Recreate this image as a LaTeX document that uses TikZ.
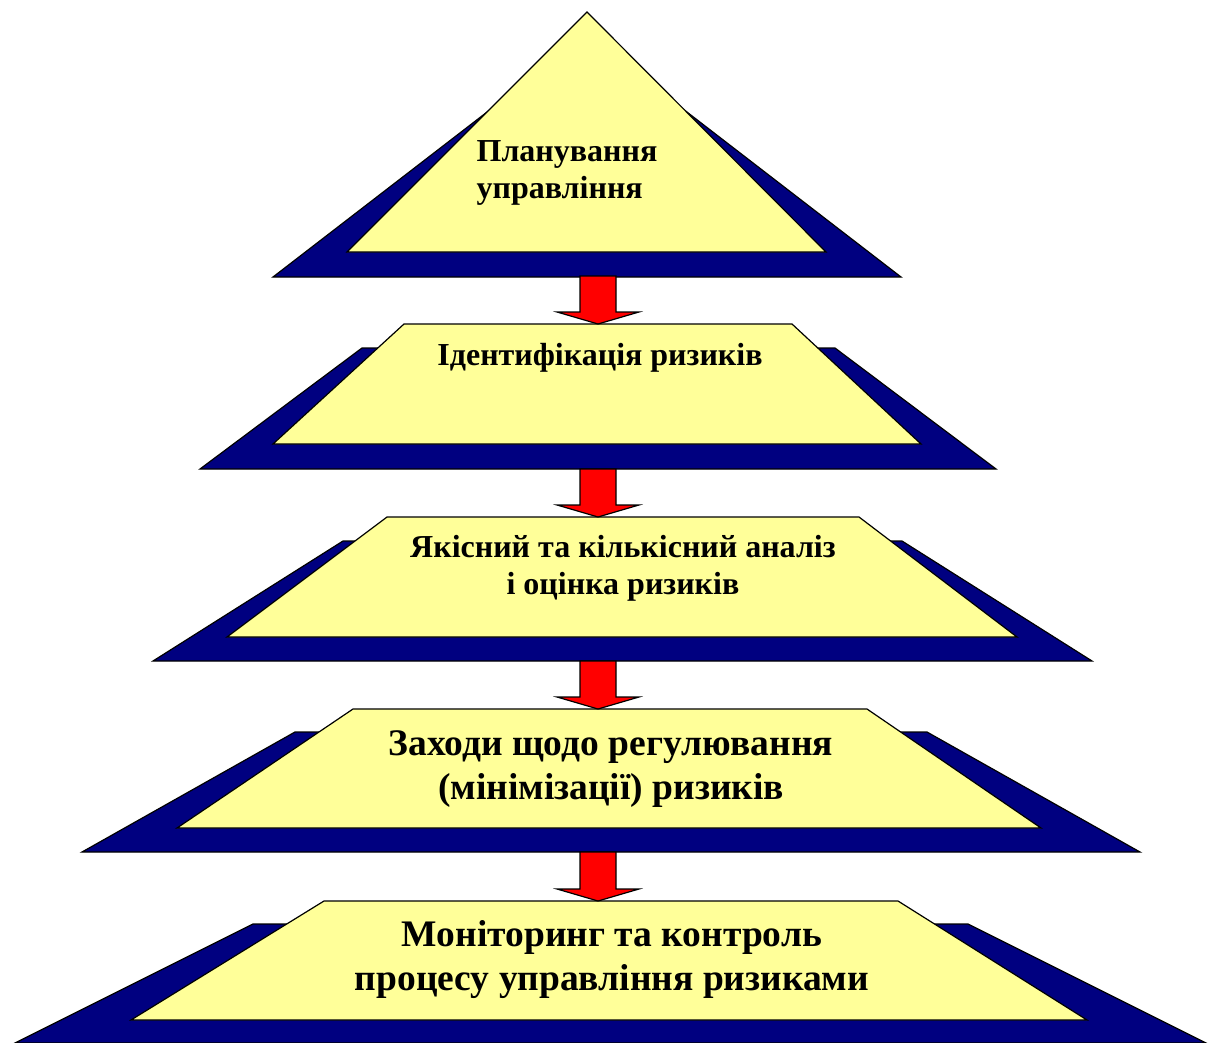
\documentclass[tikz,border=0pt]{standalone}
\usepackage{fontspec}
\setmainfont{Liberation Serif}
\usetikzlibrary{calc}
\definecolor{tiernavy}{RGB}{0,0,128}
\definecolor{tieryellow}{RGB}{255,255,153}
% block arrow from (#1) down to its tip (#2)
\newcommand{\tierarrow}[2]{%
  \draw[block arrow] ($(#1)+(-18,0)$) -- ($(#1)+(18,0)$) -- ($(#2)+(18,-12)$)
    -- ($(#2)+(41,-12)$) -- (#2) -- ($(#2)+(-41,-12)$) -- ($(#2)+(-18,-12)$) -- cycle;}

\begin{document}
\begin{tikzpicture}[x=1pt,y=-1pt,line join=miter]
    \tikzstyle{back tier}=[fill=tiernavy,draw=black,line width=1.2pt]
    \tikzstyle{front tier}=[fill=tieryellow,draw=black,line width=1.2pt]
    \tikzstyle{block arrow}=[fill=red,draw=black,line width=1.2pt]
    \tikzstyle{small label}=[font=\fontsize{32}{37}\selectfont\bfseries,align=center,inner sep=0pt]
    \tikzstyle{big label}=[font=\fontsize{37.5}{44}\selectfont\bfseries,align=center,inner sep=0pt]

    \useasboundingbox (0,0) rectangle (1209,1043);
    \clip (0,0) rectangle (1209,1043);

    % Draw the first tier (triangle)
    \draw[back tier] (273,277) -- (901,277) -- (587,35) -- cycle;
    \draw[front tier] (587,12) -- (826,252) -- (347,252) -- cycle;

    % Draw the other tiers (trapezia)
    \draw[back tier] (362,348) -- (835,348) -- (996,469) -- (200,469) -- cycle;
    \draw[front tier] (404,324) -- (792,324) -- (921,444) -- (273,444) -- cycle;

    \draw[back tier] (343,541) -- (902,541) -- (1092,661) -- (153,661) -- cycle;
    \draw[front tier] (387,517) -- (859,517) -- (1017,637) -- (227,637) -- cycle;

    \draw[back tier] (295,732) -- (927,732) -- (1140,852) -- (82,852) -- cycle;
    \draw[front tier] (353,709) -- (867,709) -- (1041,828) -- (177,828) -- cycle;

    \draw[back tier] (253,924) -- (968,924) -- (1206,1043) -- (15,1043) -- cycle;
    \draw[front tier] (324,901) -- (898,901) -- (1087,1020) -- (131,1020) -- cycle;

    % Arrow ends
    \foreach \name / \y in {1/276,2/469,3/661,4/852}
        \coordinate (B-\name) at (598,\y);
    \foreach \name / \y in {2/324,3/517,4/709,5/901}
        \coordinate (T-\name) at (598,\y);

    % Connect every tier with the next one
    \tierarrow{B-1}{T-2}
    \tierarrow{B-2}{T-3}
    \tierarrow{B-3}{T-4}
    \tierarrow{B-4}{T-5}

    % Labels
    \node[small label,align=left] (plan) at (567,173) {Планування\\управління};
    \node[small label] (ident) at (600,358) {Ідентифікація ризиків};
    \node[small label] (anal) at (623,568) {Якісний та кількісний аналіз\\і оцінка ризиків};
    \node[big label] (meas) at (611,769) {Заходи щодо регулювання\\(мінімізації) ризиків};
    \node[big label] (mon) at (612,960) {Моніторинг та контроль\\процесу управління ризиками};
\end{tikzpicture}
\end{document}
